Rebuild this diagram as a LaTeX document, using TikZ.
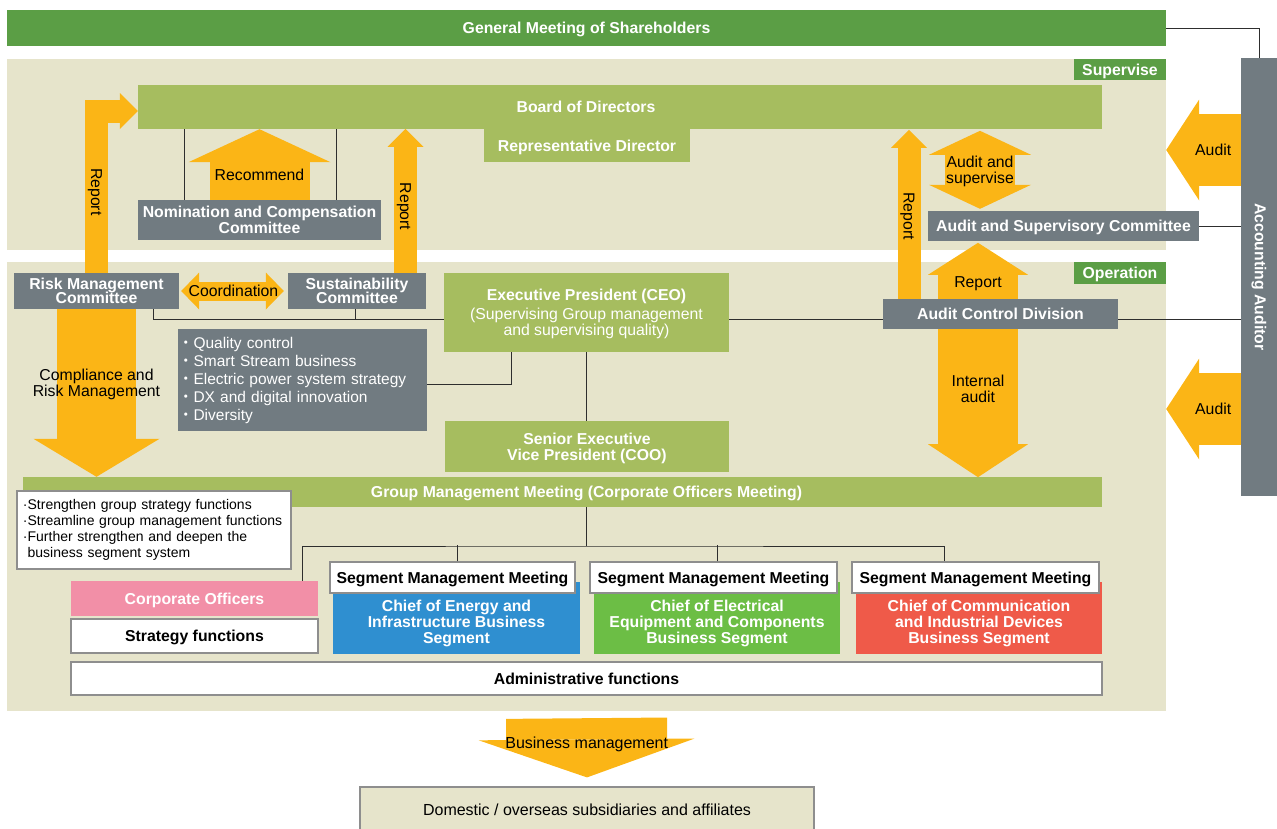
\documentclass[tikz,border=0pt]{standalone}
\usepackage{fontspec}
\setmainfont{Liberation Sans}
\newfontfamily\cjk{Noto Sans CJK JP}
\usepackage{graphicx}
\usetikzlibrary{arrows.meta}

\definecolor{gmgreen}{HTML}{5B9E45}
\definecolor{bdgreen}{HTML}{A6BD5F}
\definecolor{zonec}{HTML}{E6E4CB}
\definecolor{slate}{HTML}{717B81}
\definecolor{amber}{HTML}{FBB516}
\definecolor{rose}{HTML}{F28FA7}
\definecolor{segblue}{HTML}{2F8FD0}
\definecolor{seggreen}{HTML}{6CBE45}
\definecolor{segred}{HTML}{EF5A49}
\definecolor{wirec}{HTML}{2E2E2E}
\definecolor{rim}{HTML}{8E8E8E}

\newcommand{\boxfont}{\fontsize{15.8}{16}\selectfont}
\newcommand{\smallfont}{\fontsize{14}{16}\selectfont}
\newcommand{\dotitem}{{\cjk ・}}

\tikzset{
	dims/.style 2 args={minimum width=#1, minimum height=#2},
	zonebox/.style={fill=zonec, inner sep=0pt},
	tagbox/.style={fill=gmgreen, text=white, font=\boxfont\bfseries, inner sep=0pt, text depth=0pt},
	slatebox/.style={fill=slate, text=white, font=\boxfont\bfseries, align=center, inner sep=0pt, text depth=0pt},
	leafbox/.style={fill=bdgreen, text=white, font=\boxfont\bfseries, align=center, inner sep=0pt, text depth=0pt},
	whitebox/.style={fill=white, draw=rim, line width=1.2pt, font=\boxfont\bfseries, align=center, inner sep=0pt, text depth=0pt},
	segtext/.style={text=white, font=\boxfont\bfseries, align=center, inner sep=0pt, text depth=0pt},
	wire/.style={draw=wirec, line width=1pt},
	blockarrow/.style n args={3}{draw=amber, line width=#1, -{Triangle[width=#2, length=#3, line width=0pt]}},
	blockarrows/.style n args={3}{draw=amber, line width=#1, {Triangle[width=#2, length=#3, line width=0pt]}-{Triangle[width=#2, length=#3, line width=0pt]}},
	arrowlabel/.style={text=black, font=\boxfont, align=center, inner sep=0pt, text depth=0pt}
}

\begin{document}
\begin{tikzpicture}[x=1pt, y=-1pt]
	\useasboundingbox (0,0) rectangle (1277,828);

	\node[tagbox, dims={1159pt}{36pt}] (gms) at (586.5,28) {General Meeting of Shareholders};

	\node[zonebox, dims={1159pt}{191pt}] (superv) at (586.5,154.5) {};
	\node[tagbox, dims={92pt}{21pt}, anchor=north east] (supervtag) at (superv.north east) {Supervise};
	\node[zonebox, dims={1159pt}{449pt}] (oper) at (586.5,486.5) {};
	\node[tagbox, dims={92pt}{22pt}, anchor=north east] (opertag) at (oper.north east) {Operation};

	\node[fill=slate, text=white, font=\boxfont\bfseries, inner sep=0pt, dims={36pt}{438pt}] (auditor) at (1259,277) {\rotatebox{-90}{Accounting Auditor}};

	\node[leafbox, dims={964pt}{44pt}] (board) at (620,107) {Board of Directors\hspace*{68pt}};
	\node[leafbox, dims={206pt}{33pt}] (repdir) at (587,145.5) {Representative Director};
	\node[slatebox, dims={243pt}{40pt}] (nomin) at (259.5,220) {Nomination and Compensation\\Committee};
	\node[slatebox, dims={271pt}{30pt}] (asc) at (1063.5,226) {Audit and Supervisory Committee};

	\node[slatebox, dims={165pt}{36pt}] (risk) at (96.5,291) {Risk Management\\[-2pt]Committee};
	\node[slatebox, dims={138pt}{36pt}] (sust) at (357,291) {Sustainability\\[-2pt]Committee};
	\node[leafbox, dims={285pt}{79pt}] (ceo) at (586.5,312.5) {Executive President (CEO)\\[3pt]\mdseries (Supervising Group management\\\mdseries and supervising quality)};
	\node[slatebox, dims={249pt}{102pt}, font=\fontsize{15.5}{18}\selectfont\mdseries, align=left, text width=249pt, text depth={}] (themes) at (302.5,380) {\dotitem Quality control\\\dotitem Smart Stream business\\\dotitem Electric power system strategy\\\dotitem DX and digital innovation\\\dotitem Diversity};
	\node[slatebox, dims={235pt}{30pt}] (acd) at (1000.5,314) {Audit Control Division};
	\node[leafbox, dims={284pt}{51pt}] (coo) at (587,446.5) {Senior Executive\\Vice President (COO)};

	\node[leafbox, dims={1079pt}{30pt}] (gmm) at (562.5,492) {\hspace*{48pt}Group Management Meeting (Corporate Officers Meeting)};
	\node[whitebox, dims={274pt}{78pt}, font=\smallfont, align=left, text width=262pt, inner xsep=6pt, text depth={}] (aims) at (154,530) {·Strengthen group strategy functions\\·Streamline group management functions\\·Further strengthen and deepen the\\\phantom{·}business segment system};

	\node[fill=rose, segtext, dims={247pt}{35pt}] (corp) at (194.5,598.5) {Corporate Officers};
	\node[whitebox, dims={247pt}{34pt}] (stratf) at (194.5,636) {Strategy functions};

	\node[fill=segblue, dims={247pt}{72pt}, label={[segtext, yshift=-4pt]center:Chief of Energy and\\Infrastructure Business\\Segment}] (chiefa) at (456.5,618) {};
	\node[fill=seggreen, dims={246pt}{72pt}, label={[segtext, yshift=-4pt]center:Chief of Electrical\\Equipment and Components\\Business Segment}] (chiefb) at (717,618) {};
	\node[fill=segred, dims={246pt}{72pt}, label={[segtext, yshift=-4pt]center:Chief of Communication\\and Industrial Devices\\Business Segment}] (chiefc) at (979,618) {};
	\node[whitebox, dims={245pt}{31pt}] (smma) at (452.5,577.5) {Segment Management Meeting};
	\node[whitebox, dims={247pt}{31pt}] (smmb) at (713.5,577.5) {Segment Management Meeting};
	\node[whitebox, dims={247pt}{31pt}] (smmc) at (975.5,577.5) {Segment Management Meeting};

	\node[whitebox, dims={1031pt}{33pt}] (admin) at (586.5,678.5) {Administrative functions};
	\node[fill=zonec, draw=rim, line width=1.2pt, dims={454pt}{46pt}, font=\fontsize{16}{16}\selectfont, text depth=0pt] (dom) at (587,810) {Domestic / overseas subsidiaries and affiliates};

	\draw[wire] (gms.east) -| (auditor.north);
	\draw[wire] (asc.east) -- (asc.east -| auditor.west);
	\draw[wire] ([xshift=-75.5pt]nomin.north) -- ++(0,-71);
	\draw[wire] ([xshift=76.5pt]nomin.north) -- ++(0,-71);
	\draw[wire] ([xshift=56.5pt]risk.south) |- ([yshift=-6.5pt]ceo.west);
	\draw[wire] ([xshift=-2pt]sust.south) -- ++(0,10);
	\draw[wire] ([yshift=-6.5pt]ceo.east) -- ++(153.5,0);
	\draw[wire] ([yshift=-5pt]acd.east) -- ++(123,0);
	\draw[wire] ([yshift=-4pt]themes.east) -| ([xshift=-75.5pt]ceo.south);
	\draw[wire] (ceo.south) -- (ceo.south |- coo.north);

	\coordinate (fork) at (586,546);
	\draw[wire] ([xshift=23.5pt]gmm.south) -- (fork);
	\draw[wire] ([xshift=107.5pt]corp.north) |- (fork) -| ([xshift=-31.5pt]smmc.north);
	\draw[wire] ([xshift=4.5pt]smma.north) -- ++(0,-16);
	\draw[wire] ([xshift=3.5pt]smmb.north) -- ++(0,-16);

	\draw[blockarrow={23pt}{36pt}{18pt}] (risk.north) |- node[arrowlabel, pos=0.25, rotate=-90] {Report} ([yshift=-4pt]board.west);
	\draw[blockarrow={23pt}{36pt}{18pt}] ([xshift=48.5pt]sust.north) -- node[arrowlabel, pos=0.46, rotate=-90] {Report} ++(0,-144);
	\draw[blockarrow={100pt}{142pt}{33pt}] (nomin.north) -- node[arrowlabel, pos=0.36] {Recommend} (nomin.north |- board.south);
	\draw[blockarrows={70pt}{102pt}{24pt}] ([xshift=-83.5pt, yshift=2pt]asc.north) -- node[arrowlabel] {Audit and\\supervise} ++(0,-78);
	\draw[blockarrow={23pt}{36pt}{18pt}] ([xshift=-91.5pt]acd.north) -- node[arrowlabel, pos=0.49, rotate=-90] {Report} ++(0,-169);
	\draw[blockarrow={80pt}{100pt}{32pt}] ([xshift=-22.5pt]acd.north) -- node[arrowlabel, pos=0.3] {Report} ++(0,-56);
	\draw[blockarrow={80pt}{100pt}{33pt}] ([xshift=-22.5pt]acd.south) -- node[arrowlabel, pos=0.4] {Internal\\audit} ++(0,148);
	\draw[blockarrow={79pt}{126pt}{38pt}] (risk.south) -- node[arrowlabel, pos=0.44] {Compliance and\\Risk Management} (risk.south |- gmm.north);
	\draw[blockarrows={19pt}{37pt}{18pt}, shorten <=2pt, shorten >=4pt] (risk.east) -- node[arrowlabel] {Coordination} (sust.west);
	\draw[blockarrow={72pt}{101pt}{33pt}] (auditor.west |- 0,150) -- node[arrowlabel, pos=0.37] {Audit} (superv.east |- 0,150);
	\draw[blockarrow={72pt}{101pt}{33pt}] (auditor.west |- 0,409) -- node[arrowlabel, pos=0.37] {Audit} (oper.east |- 0,409);
	\draw[blockarrow={161pt}{216pt}{38pt}] ([yshift=-7pt]oper.south) -- node[arrowlabel, pos=0.42, font=\fontsize{16}{16}\selectfont] {Business management} ([yshift=9pt]dom.north);

\end{tikzpicture}
\end{document}
